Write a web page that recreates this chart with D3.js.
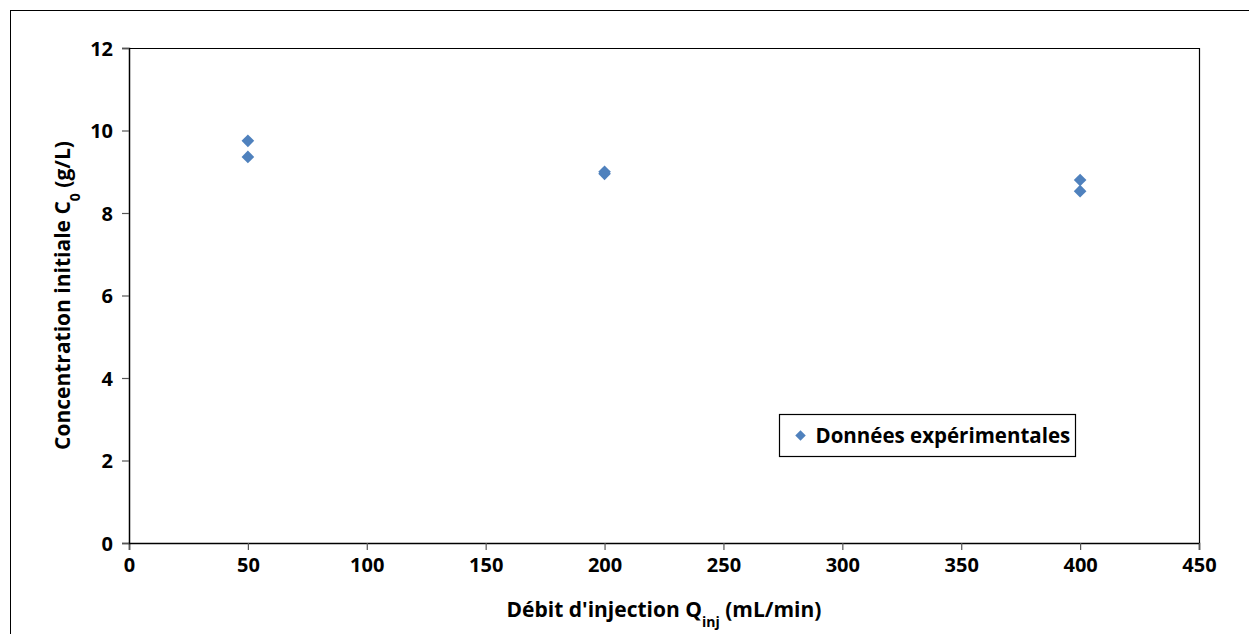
<!DOCTYPE html>
<html>
<head>
<meta charset="utf-8">
<script src="https://cdn.jsdelivr.net/npm/d3@7"></script>
<style>
body { margin:0; background:#fff; }
svg text { font-family: "Open Sans", Lato, sans-serif; font-weight:bold; fill:#000; }
</style>
</head>
<body>
<div class="chart"></div>
<script>
// data
var debit = [50, 50, 200, 200, 400, 400];
var conc = [9.75, 9.36, 8.95, 9.0, 8.8, 8.53];
var xTicks = [0, 50, 100, 150, 200, 250, 300, 350, 400, 450];
var yTicks = [0, 2, 4, 6, 8, 10, 12];
var serieName = 'Données expérimentales';

var W = 1249, H = 634;

var x = d3.scaleLinear()
.domain([0, 450])
.range([129, 1199])
;

var y = d3.scaleLinear()
.domain([0, 12])
.range([543, 48])
;

var svg = d3
.select('div.chart')
.append('svg')
.attr('width', W)
.attr('height', H)
;

// outer chart frame
svg.append('rect')
.attr('x', 10.5).attr('y', 10.5)
.attr('width', W + 20).attr('height', H + 20)
.attr('fill', 'none')
.attr('stroke', '#000')
.attr('stroke-width', 1)
;

// plot area border (top + right)
svg.append('path')
.attr('d', 'M' + x(0) + ',' + (y(12) + 0.5) + 'H' + (x(450) + 0.5) + 'V' + y(0))
.attr('fill', 'none')
.attr('stroke', '#000')
.attr('stroke-width', 1.2)
;

var xAxis = d3.axisBottom(x)
.tickValues(xTicks)
.tickSize(7)
.tickPadding(8)
;

var yAxis = d3.axisLeft(y)
.tickValues(yTicks)
.tickSize(7)
.tickPadding(9)
;

svg.append('g')
.attr('class', 'x-axis')
.attr('transform', 'translate(0,' + y(0) + ')')
.call(xAxis)
;

svg.append('g')
.attr('class', 'y-axis')
.attr('transform', 'translate(' + x(0) + ',0)')
.call(yAxis)
;

svg.selectAll('.domain').attr('stroke', '#000').attr('stroke-width', 1.5);
svg.selectAll('.tick line').attr('stroke', '#555').attr('stroke-width', 1.2);
svg.selectAll('.tick text').style('font-size', '20px').style('font-family', '"Open Sans", sans-serif').style('font-weight', 'bold').attr('fill', '#000');
svg.selectAll('.y-axis .tick text').attr('dy', '0.35em');

// markers
svg.selectAll('path.pt')
.data(debit)
.enter()
.append('path')
.attr('class', 'pt')
.attr('d', d3.symbol().type(d3.symbolSquare).size(80))
.attr('transform', function(d, i){ return 'translate(' + x(d) + ',' + y(conc[i]) + ') rotate(45)'; })
.attr('fill', '#4F81BD')
;

// axis titles
svg.append('text')
.attr('x', (x(0) + x(450)) / 2)
.attr('y', 617)
.attr('text-anchor', 'middle')
.style('font-size', '21px')
.html('Débit d\'injection Q<tspan baseline-shift="sub" font-size="14px">inj</tspan> (mL/min)')
;

svg.append('text')
.attr('transform', 'translate(70,' + ((y(0) + y(12)) / 2) + ') rotate(-90)')
.attr('text-anchor', 'middle')
.style('font-size', '21px')
.html('Concentration initiale C<tspan baseline-shift="sub" font-size="14px">0</tspan> (g/L)')
;

// legend
var lg = svg.append('g').attr('transform', 'translate(779.5,414.5)');
lg.append('rect')
.attr('width', 296).attr('height', 42)
.attr('fill', '#fff')
.attr('stroke', '#000')
.attr('stroke-width', 1.2)
;
lg.append('path')
.attr('d', d3.symbol().type(d3.symbolSquare).size(55))
.attr('transform', 'translate(21,21) rotate(45)')
.attr('fill', '#4F81BD')
;
lg.append('text')
.attr('x', 36)
.attr('y', 28)
.style('font-size', '20.5px')
.text(serieName)
;
</script>
</body>
</html>
